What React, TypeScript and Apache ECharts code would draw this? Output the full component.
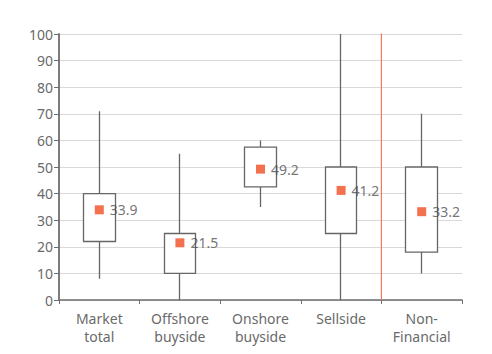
import React, { useEffect, useRef } from "react";
import * as echarts from "echarts";

const categories = ["Market\ntotal", "Offshore\nbuyside", "Onshore\nbuyside", "Sellside", "Non-\nFinancial"];
const boxLow = [22, 10, 42.5, 25, 18];
const boxHigh = [40, 25, 57.5, 50, 50];
const whiskerLow = [8, 0, 35, 0, 10];
const whiskerHigh = [71, 55, 60, 100, 70];
const means = [33.9, 21.5, 49.2, 41.2, 33.2];
const yTicks = { min: 0, max: 100, interval: 10 };
const separatorAt = 4; // boundary before "Non-Financial"

const FONT = "'Noto Sans', 'Open Sans', sans-serif";

export default function App() {
  const ref = useRef<HTMLDivElement>(null);
  useEffect(() => {
    if (!ref.current) return;
    const chart = echarts.init(ref.current, undefined, { renderer: "svg" });
    const candle = categories.map((_, i) => [boxLow[i], boxHigh[i], whiskerLow[i], whiskerHigh[i]]);
    chart.setOption({
      animation: false,
      grid: { left: 51, right: 22, top: 26, bottom: 46 },
      xAxis: [
        {
          type: "category",
          data: categories,
          boundaryGap: true,
          axisLine: { lineStyle: { color: "#6e6e6e", width: 1.5 } },
          axisTick: { show: true, length: 4, lineStyle: { color: "#6e6e6e" } },
          axisLabel: { color: "#6a6a6a", fontSize: 14, fontFamily: FONT, lineHeight: 18, margin: 9 },
        },
        {
          type: "value",
          min: 0,
          max: categories.length,
          show: false,
        },
      ],
      yAxis: {
        type: "value",
        min: yTicks.min,
        max: yTicks.max,
        interval: yTicks.interval,
        axisLine: { show: true, lineStyle: { color: "#6e6e6e", width: 1.8 } },
        axisTick: { show: true, length: 5, lineStyle: { color: "#6e6e6e" } },
        axisLabel: { color: "#6a6a6a", fontSize: 14, fontFamily: FONT, margin: 6 },
        splitLine: { lineStyle: { color: "#d9d9d9", width: 1 } },
      },
      series: [
        {
          type: "candlestick",
          xAxisIndex: 0,
          data: candle,
          barWidth: "40%",
          itemStyle: {
            color: "#ffffff",
            color0: "#ffffff",
            borderColor: "#666666",
            borderColor0: "#666666",
            borderWidth: 1.3,
          },
          z: 2,
        },
        {
          type: "scatter",
          xAxisIndex: 0,
          data: means,
          symbol: "rect",
          symbolSize: 9,
          itemStyle: { color: "#f04e23" },
          label: {
            show: true,
            position: "right",
            distance: 6,
            color: "#505050",
            fontSize: 14,
            fontFamily: FONT,
          },
          z: 3,
        },
        {
          type: "line",
          xAxisIndex: 1,
          data: [
            [separatorAt, yTicks.min],
            [separatorAt, yTicks.max + 1.5],
          ],
          symbol: "none",
          lineStyle: { color: "#f27a5a", width: 1.2 },
          z: 4,
        },
      ],
    });
    return () => chart.dispose();
  }, []);
  return <div ref={ref} style={{ width: 476, height: 338 }} />;
}
